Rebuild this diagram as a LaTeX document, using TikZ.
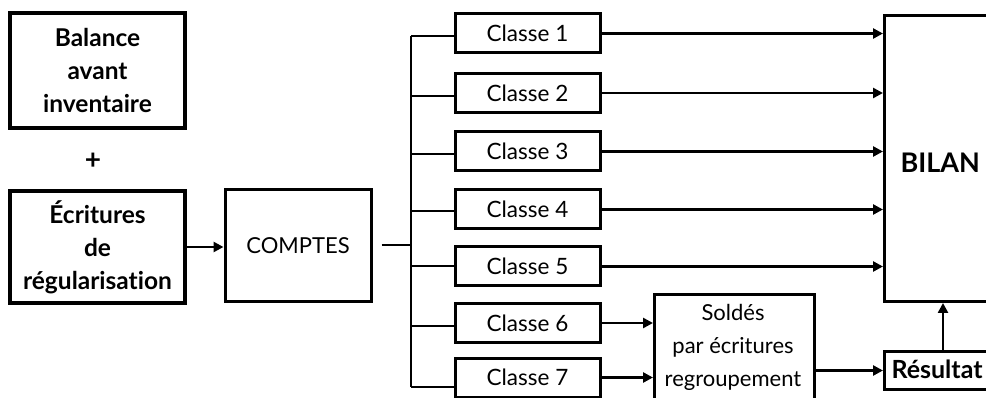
\documentclass[tikz,border=0pt]{standalone}
\usepackage{fontspec}
\setmainfont{Lato}[Ligatures=NoCommon]
\usetikzlibrary{arrows.meta}
\begin{document}
\begin{tikzpicture}[x=1pt,y=-1pt,
  box/.style={draw, line width=3pt, rectangle, inner sep=0pt},
  thick box/.style={box, line width=4pt},
  cls/.style={box, minimum width=145pt, minimum height=39pt, font=\fontsize{22.5}{26}\selectfont},
  bold txt/.style={font=\fontsize{24.5}{33}\selectfont\bfseries, align=center},
  conn/.style={line width=2.6pt},
  arr/.style={conn, -{Triangle[length=10pt,width=10pt]}}]
\useasboundingbox (0,0) rectangle (986,398);
\clip (0,0) rectangle (986,398);
% left boxes
\node[thick box, minimum width=175pt, minimum height=115pt, bold txt] (bal) at (97.5,70.5) {Balance\\avant\\inventaire};
\node[font=\fontsize{28}{28}\selectfont\bfseries] (plus) at (93,161) {+};
\node[thick box, minimum width=175pt, minimum height=112pt, bold txt] (ecr) at (97.5,247) {Écritures\\de\\régularisation};
\node[box, minimum width=146pt, minimum height=112pt, font=\fontsize{22}{26}\selectfont] (cpt) at (298,246) {COMPTES};
% classes
\node[cls] (c1) at (527.5,33.5) {Classe 1};
\node[cls] (c2) at (527.5,93) {Classe 2};
\node[cls] (c3) at (527.5,151.5) {Classe 3};
\node[cls] (c4) at (527.5,209.5) {Classe 4};
\node[cls] (c5) at (527.5,266.5) {Classe 5};
\node[cls] (c6) at (527.5,323) {Classe 6};
\node[cls] (c7) at (527.5,377.5) {Classe 7};
% bilan
\node[box, minimum width=140pt, minimum height=286pt, anchor=north west] (bilan) at (883,14) {};
\node[anchor=west, font=\fontsize{27}{30}\selectfont\bfseries] (biltxt) at (897,163) {BILAN};
% soldes
\node[box, minimum width=160pt, minimum height=140pt, anchor=north west] (sol) at (653,293) {};
\node[anchor=north, align=center, font=\fontsize{22}{33}\selectfont] (soltxt) at (733,301) {Soldés\\par écritures\\regroupement};
% resultat
\node[box, minimum width=130pt, minimum height=38pt, anchor=north west] (res) at (883,350) {};
\node[anchor=west, font=\fontsize{25}{28}\selectfont\bfseries] (restxt) at (888,369) {Résultat};
% connectors
\draw[arr] (ecr.east) -- (ecr.east -| cpt.west);
\coordinate (bus) at (411,245);
\draw[conn] ([xshift=9pt]cpt.east |- bus) -- (bus);
\draw[conn] (bus |- 0,36) -- (bus |- 0,387);
\draw[conn] (bus |- 0,36) -- (c1.west |- 0,36);
\draw[conn] (bus |- 0,96) -- (c2.west |- 0,96);
\draw[conn] (bus |- 0,154) -- (c3.west |- 0,154);
\draw[conn] (bus |- 0,211) -- (c4.west |- 0,211);
\draw[conn] (bus |- 0,266) -- (c5.west |- 0,266);
\draw[conn] (bus |- 0,326) -- (c6.west |- 0,326);
\draw[conn] (bus |- 0,387) -- (c7.west |- 0,387);
\foreach \c in {c1,c2,c3,c4,c5}{
  \draw[arr] (\c.east) -- (\c.east -| bilan.west);
}
\draw[arr] (c6.east) -- (c6.east -| sol.west);
\draw[arr] (c7.east) -- (c7.east -| sol.west);
\draw[arr] (res.west -| sol.east) -- (res.west);
\coordinate (up) at (943,350);
\draw[arr] (up) -- (up |- bilan.south);
\end{tikzpicture}
\end{document}
